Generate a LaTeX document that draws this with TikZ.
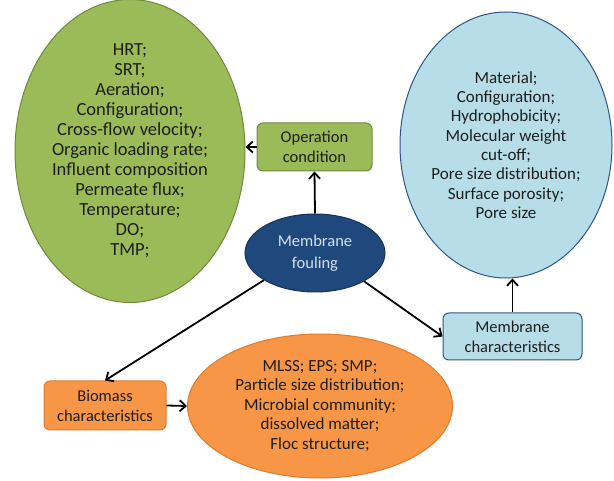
\documentclass[tikz,border=0pt]{standalone}
\usepackage{fontspec}
\setmainfont{Carlito}
\usetikzlibrary{arrows.meta,positioning,shapes.geometric}
\definecolor{oliveG}{HTML}{9BBB59}
\definecolor{oliveD}{HTML}{6E8A3C}
\definecolor{skyB}{HTML}{B7DEE8}
\definecolor{skyD}{HTML}{2E5585}
\definecolor{orngF}{HTML}{F79646}
\definecolor{orngD}{HTML}{E07A2C}
\definecolor{navyF}{HTML}{1F497D}
\definecolor{navyT}{HTML}{D3E0F0}
\definecolor{txtC}{HTML}{1E1E1E}
\tikzset{
  bubble/.style={ellipse, draw, line width=1pt, inner sep=0pt, align=center,
                 text=txtC, font=\fontsize{17}{19.5}\selectfont},
  tag/.style={rectangle, rounded corners=6pt, draw, line width=1pt, align=center,
              text=txtC, font=\fontsize{16.5}{20}\selectfont},
  arrow/.style={-{Straight Barb[length=6pt,width=11pt]}, line width=1.8pt, black},
}

\begin{document}
\begin{tikzpicture}[x=1pt, y=-1pt]
  \useasboundingbox (0,0) rectangle (614,481);

  % ----- Centre -----
  \node[bubble, fill=navyF, draw=navyF!70!black, text=navyT,
        font=\fontsize{16.5}{22}\selectfont,
        minimum width=140pt, minimum height=78pt] (fouling) at (315,253)
        {Membrane\\fouling};

  % ----- Operation condition (green) -----
  \node[tag, fill=oliveG, draw=oliveD, minimum width=115pt, minimum height=48pt]
        (oper) at (314.5,147) {Operation\\condition};
  \node[bubble, fill=oliveG, draw=oliveD, minimum width=230pt, minimum height=278pt,
        font=\fontsize{18.5}{20}\selectfont]
        (operlist) at (130,151)
        {HRT;\\SRT;\\Aeration;\\Configuration;\\Cross-flow velocity;\\Organic loading rate;\\
         Influent composition\\Permeate flux;\\Temperature;\\DO;\\TMP;};

  % ----- Membrane characteristics (blue) -----
  \node[tag, fill=skyB, draw=skyD, minimum width=139pt, minimum height=47pt]
        (memb) at (512.5,336.5) {Membrane\\characteristics};
  \node[bubble, fill=skyB, draw=skyD, minimum width=212pt, minimum height=266pt,
        font=\fontsize{17}{19.3}\selectfont]
        (memblist) at (506,145)
        {Material;\\Configuration;\\Hydrophobicity;\\Molecular weight\\cut-off;\\
         Pore size distribution;\\Surface porosity;\\Pore size};

  % ----- Biomass characteristics (orange) -----
  \node[tag, fill=orngF, draw=orngD, minimum width=122pt, minimum height=49pt]
        (bio) at (105,405.5) {Biomass\\characteristics};
  \node[bubble, fill=orngF, draw=orngD, minimum width=265pt, minimum height=144pt]
        (biolist) at (320,406)
        {MLSS; EPS; SMP;\\Particle size distribution;\\Microbial community;\\
         dissolved matter;\\Floc structure;};

  % ----- Arrows -----
  \draw[arrow] (fouling.north) -- (oper.south);
  \draw[arrow] (oper.west) -- (oper.west -| operlist.east);
  \draw[arrow] (fouling.-30) -- (memb.west);
  \draw[arrow] (memb.north) -- (memb.north |- memblist.south);
  \draw[arrow] (fouling.208) -- (bio.north);
  \draw[arrow] (bio.east) -- (biolist.west);

\end{tikzpicture}
\end{document}
